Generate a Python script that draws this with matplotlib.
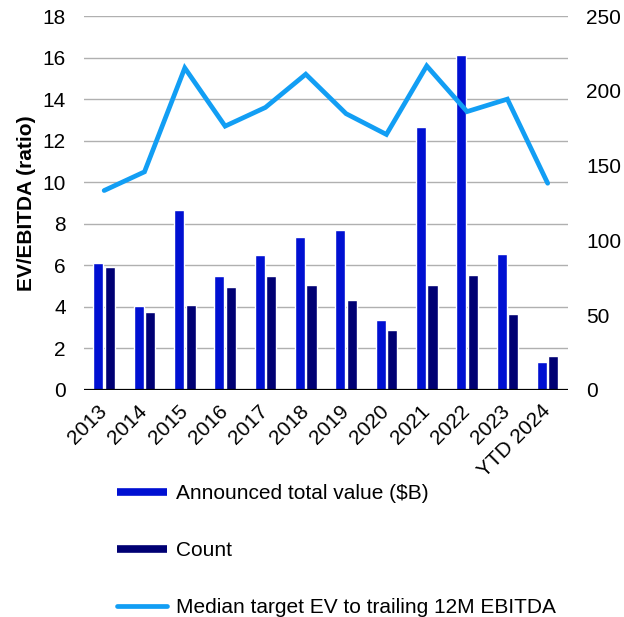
import matplotlib
matplotlib.use("Agg")
import matplotlib.pyplot as plt
from matplotlib.lines import Line2D

plt.rcParams['font.family'] = ['Liberation Sans', 'DejaVu Sans']

# datos
anios = ['2013', '2014', '2015', '2016', '2017', '2018', '2019', '2020',
         '2021', '2022', '2023', 'YTD 2024']
valor_total = [85, 56, 120, 76, 90, 102, 107, 47, 176, 224, 91, 19]
conteo = [82, 52, 57, 69, 76, 70, 60, 40, 70, 77, 51, 23]
ev_ebitda = [9.6, 10.5, 15.5, 12.7, 13.6, 15.2, 13.3, 12.3, 15.6, 13.4, 14.0, 9.95]

COLOR_VALOR = '#0010d2'
COLOR_CONTEO = '#000073'
COLOR_LINEA = '#129ef4'
FS = 15

fig = plt.figure(figsize=(6.24, 6.17), dpi=100)
ax1 = fig.add_axes([0.1346, 0.368, 0.7754, 0.606])

x = list(range(len(anios)))

# eje izquierdo: solo rejilla y etiquetas
ax1.set_xlim(-0.5, len(anios) - 0.5)
ax1.set_ylim(0, 18)
ax1.set_yticks(range(0, 19, 2))
ax1.grid(True, axis='y', color='#b0b0b0', linewidth=1.0)
ax1.set_axisbelow(True)
ax1.set_ylabel('EV/EBITDA (ratio)', fontsize=FS, fontweight='bold', labelpad=5)

# eje derecho: barras
ax2 = ax1.twinx()
ax2.set_ylim(0, 250)
ax2.set_yticks(range(0, 251, 50))
ancho = 0.25
ax2.bar([i - 0.143 for i in x], valor_total, width=ancho, color=COLOR_VALOR,
        edgecolor='white', linewidth=1.0)
ax2.bar([i + 0.143 for i in x], conteo, width=ancho, color=COLOR_CONTEO,
        edgecolor='white', linewidth=1.0)
ax2.axhline(0, color='black', linewidth=1.6, zorder=5)

# tercer eje (misma escala que el izquierdo) para que la linea quede encima
ax3 = ax1.twinx()
ax3.set_ylim(0, 18)
ax3.plot(x, ev_ebitda, color=COLOR_LINEA, linewidth=3.4,
         solid_capstyle='round', solid_joinstyle='miter')
ax3.set_yticks([])

for a in (ax1, ax2, ax3):
    for s in a.spines.values():
        s.set_visible(False)
    a.tick_params(length=0)

ax1.tick_params(axis='y', labelsize=FS, pad=13)
ax2.tick_params(axis='y', labelsize=FS, pad=13)
ax1.set_xticks(x)
ax1.set_xticklabels(anios, rotation=45, ha='right', va='center',
                    rotation_mode='anchor', fontsize=FS)
ax1.tick_params(axis='x', pad=13)

handles = [
    Line2D([], [], color=COLOR_VALOR, linewidth=5.5, solid_capstyle='butt'),
    Line2D([], [], color=COLOR_CONTEO, linewidth=5.5, solid_capstyle='butt'),
    Line2D([], [], color=COLOR_LINEA, linewidth=3.4, solid_capstyle='round'),
]
etiquetas = ['Announced total value ($B)', 'Count',
             'Median target EV to trailing 12M EBITDA']
fig.legend(handles, etiquetas, loc='upper left', bbox_to_anchor=(0.188, 0.215),
           frameon=False, fontsize=FS, borderpad=0, borderaxespad=0,
           handlelength=2.4, handletextpad=0.4, labelspacing=1.82)

fig.savefig('out.png', dpi=100)
